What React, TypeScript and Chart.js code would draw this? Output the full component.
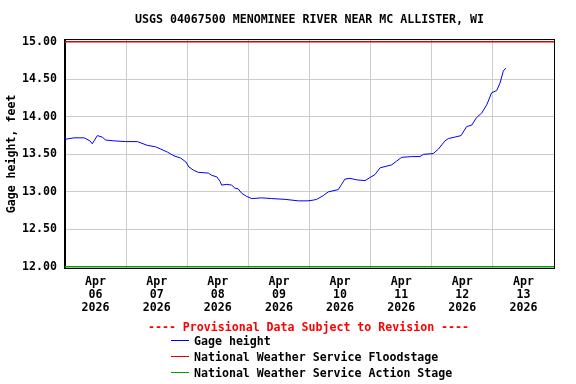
import React, { useEffect, useRef } from "react";
import { Chart, registerables } from "chart.js";

Chart.register(...registerables);

// Hours since Apr 06 2026 00:00
const hours = [
  0, 3.5, 7.5, 9.8, 10.7, 12.7, 14.6, 16.0, 19.2, 23.8, 28.4, 32.3, 35.6, 37.6,
  40.2, 42.8, 45.4, 47.4, 48.7, 50.4, 52.3, 56.3, 57.6, 59.6, 60.9, 61.5, 63.5,
  65.4, 66.7, 68.0, 69.4, 71.3, 73.3, 77.2, 81.2, 86.4, 91.6, 95.4, 97.5, 98.8,
  101.4, 103.4, 107.3, 108.6, 109.9, 111.9, 114.5, 117.8, 119.7, 121.7, 123.7,
  128.3, 130.2, 132.2, 136.1, 139.4, 140.7, 144.6, 146.6, 149.2, 150.5, 153.1,
  155.5, 157.7, 159.7, 161.6, 163.6, 165.6, 167.5, 169.5, 170.8, 172.1, 173.1,
];
const gageHeight = [
  13.7, 13.72, 13.72, 13.68, 13.64, 13.75, 13.73, 13.69, 13.68, 13.67, 13.67,
  13.62, 13.6, 13.57, 13.53, 13.48, 13.45, 13.4, 13.33, 13.29, 13.26, 13.25,
  13.22, 13.2, 13.14, 13.09, 13.1, 13.09, 13.05, 13.04, 12.98, 12.94, 12.91,
  12.92, 12.91, 12.9, 12.88, 12.88, 12.89, 12.9, 12.95, 13.0, 13.03, 13.1,
  13.17, 13.18, 13.16, 13.15, 13.19, 13.23, 13.32, 13.36, 13.41, 13.46, 13.47,
  13.47, 13.5, 13.51, 13.57, 13.68, 13.71, 13.73, 13.75, 13.87, 13.89, 13.99,
  14.05, 14.16, 14.32, 14.35, 14.45, 14.61, 14.65,
];
const floodStage = 15.0;
const actionStage = 12.0;
const dayLabels = ["06", "07", "08", "09", "10", "11", "12", "13"];
const monthLabel = "Apr";
const yearLabel = "2026";
const yTicks = [12.0, 12.5, 13.0, 13.5, 14.0, 14.5, 15.0];
const titleText = "USGS 04067500 MENOMINEE RIVER NEAR MC ALLISTER, WI";
const provisionalText = "---- Provisional Data Subject to Revision ----";
const seriesLabels = [
  "Gage height",
  "National Weather Service Floodstage",
  "National Weather Service Action Stage",
];

const FONT = "'DejaVu Sans Mono', 'Liberation Mono', monospace";
const FS = 11.6;

const frameAndLegend = {
  id: "frameAndLegend",
  afterDatasetsDraw(chart: any) {
    const { ctx, chartArea } = chart;
    ctx.save();
    ctx.strokeStyle = "#000";
    ctx.lineWidth = 1;
    ctx.strokeRect(
      Math.round(chartArea.left) - 0.5,
      Math.round(chartArea.top) - 0.5,
      Math.round(chartArea.right - chartArea.left) + 1,
      Math.round(chartArea.bottom - chartArea.top) + 1
    );
    ctx.restore();
  },
  afterDraw(chart: any) {
    const { ctx, chartArea } = chart;
    ctx.save();
    ctx.font = `bold ${FS}px ${FONT}`;
    ctx.textBaseline = "middle";
    ctx.textAlign = "center";
    ctx.fillStyle = "#ff0000";
    const cx = (chartArea.left + chartArea.right) / 2;
    ctx.fillText(provisionalText, cx - 1, 328);
    ctx.textAlign = "left";
    const rows = [341, 357, 373];
    chart.data.datasets.forEach((ds: any, i: number) => {
      const y = rows[i];
      ctx.strokeStyle = ds.borderColor;
      ctx.lineWidth = 1;
      ctx.beginPath();
      ctx.moveTo(171, y - 0.5);
      ctx.lineTo(189, y - 0.5);
      ctx.stroke();
      ctx.fillStyle = "#000";
      ctx.fillText(ds.label, 194, y + 1);
    });
    ctx.restore();
  },
};

export default function App() {
  const ref = useRef<HTMLCanvasElement>(null);
  useEffect(() => {
    document.body.style.margin = "0";
    const canvas = ref.current!;
    const gagePts = hours.map((h, i) => ({ x: h, y: gageHeight[i] }));
    const chart = new Chart(canvas, {
      type: "line",
      data: {
        datasets: [
          {
            label: seriesLabels[0],
            data: gagePts,
            borderColor: "#0000ff",
            borderWidth: 1,
            pointRadius: 0,
            tension: 0,
          },
          {
            label: seriesLabels[1],
            data: [
              { x: 0, y: floodStage },
              { x: 192, y: floodStage },
            ],
            borderColor: "#dd0000",
            borderWidth: 1.5,
            pointRadius: 0,
          },
          {
            label: seriesLabels[2],
            data: [
              { x: 0, y: actionStage },
              { x: 192, y: actionStage },
            ],
            borderColor: "#00a000",
            borderWidth: 1.5,
            pointRadius: 0,
          },
        ],
      },
      options: {
        responsive: false,
        devicePixelRatio: 1,
        animation: false,
        layout: { padding: { left: 0, right: 22, top: 0, bottom: 0 } },
        plugins: {
          legend: { display: false },
          tooltip: { enabled: false },
          title: {
            display: true,
            text: titleText,
            fullSize: false,
            color: "#000",
            font: { family: FONT, size: FS, weight: "bold" },
            padding: { top: 13, bottom: 13 },
          },
        },
        scales: {
          x: {
            type: "linear",
            min: 0,
            max: 192,
            afterBuildTicks: (scale: any) => {
              const t = [];
              for (let v = 0; v <= 192; v += 12) t.push({ value: v });
              scale.ticks = t;
            },
            afterFit: (scale: any) => {
              scale.height = 384 - 268;
            },
            grid: {
              color: (c: any) =>
                c.tick && c.tick.value % 24 === 0 ? "#cccccc" : "rgba(0,0,0,0)",
              drawTicks: false,
              lineWidth: 1,
            },
            border: { display: true, color: "#000" },
            ticks: {
              autoSkip: false,
              maxRotation: 0,
              padding: 7,
              color: "#000",
              font: { family: FONT, size: FS, weight: "bold", lineHeight: 13.3 / FS },
              callback: (v: any) => {
                const n = Number(v);
                if (n % 24 === 12) {
                  const d = Math.floor(n / 24);
                  return [monthLabel, dayLabels[d], yearLabel];
                }
                return "";
              },
            },
          },
          y: {
            type: "linear",
            min: 11.985,
            max: 15.025,
            afterBuildTicks: (scale: any) => {
              scale.ticks = yTicks.map((v) => ({ value: v }));
            },
            afterFit: (scale: any) => {
              scale.width = 65;
            },
            grid: { color: "#cccccc", drawTicks: false, lineWidth: 1 },
            border: { display: true, color: "#000" },
            title: {
              display: true,
              text: "Gage height, feet",
              color: "#000",
              font: { family: FONT, size: FS, weight: "bold" },
              padding: { top: 5, bottom: 0 },
            },
            ticks: {
              padding: 8,
              color: "#000",
              font: { family: FONT, size: FS, weight: "bold" },
              callback: (v: any) => Number(v).toFixed(2),
            },
          },
        },
      },
      plugins: [frameAndLegend],
    } as any);
    return () => chart.destroy();
  }, []);
  return (
    <div style={{ width: 576, height: 384 }}>
      <canvas ref={ref} width={576} height={384} />
    </div>
  );
}
